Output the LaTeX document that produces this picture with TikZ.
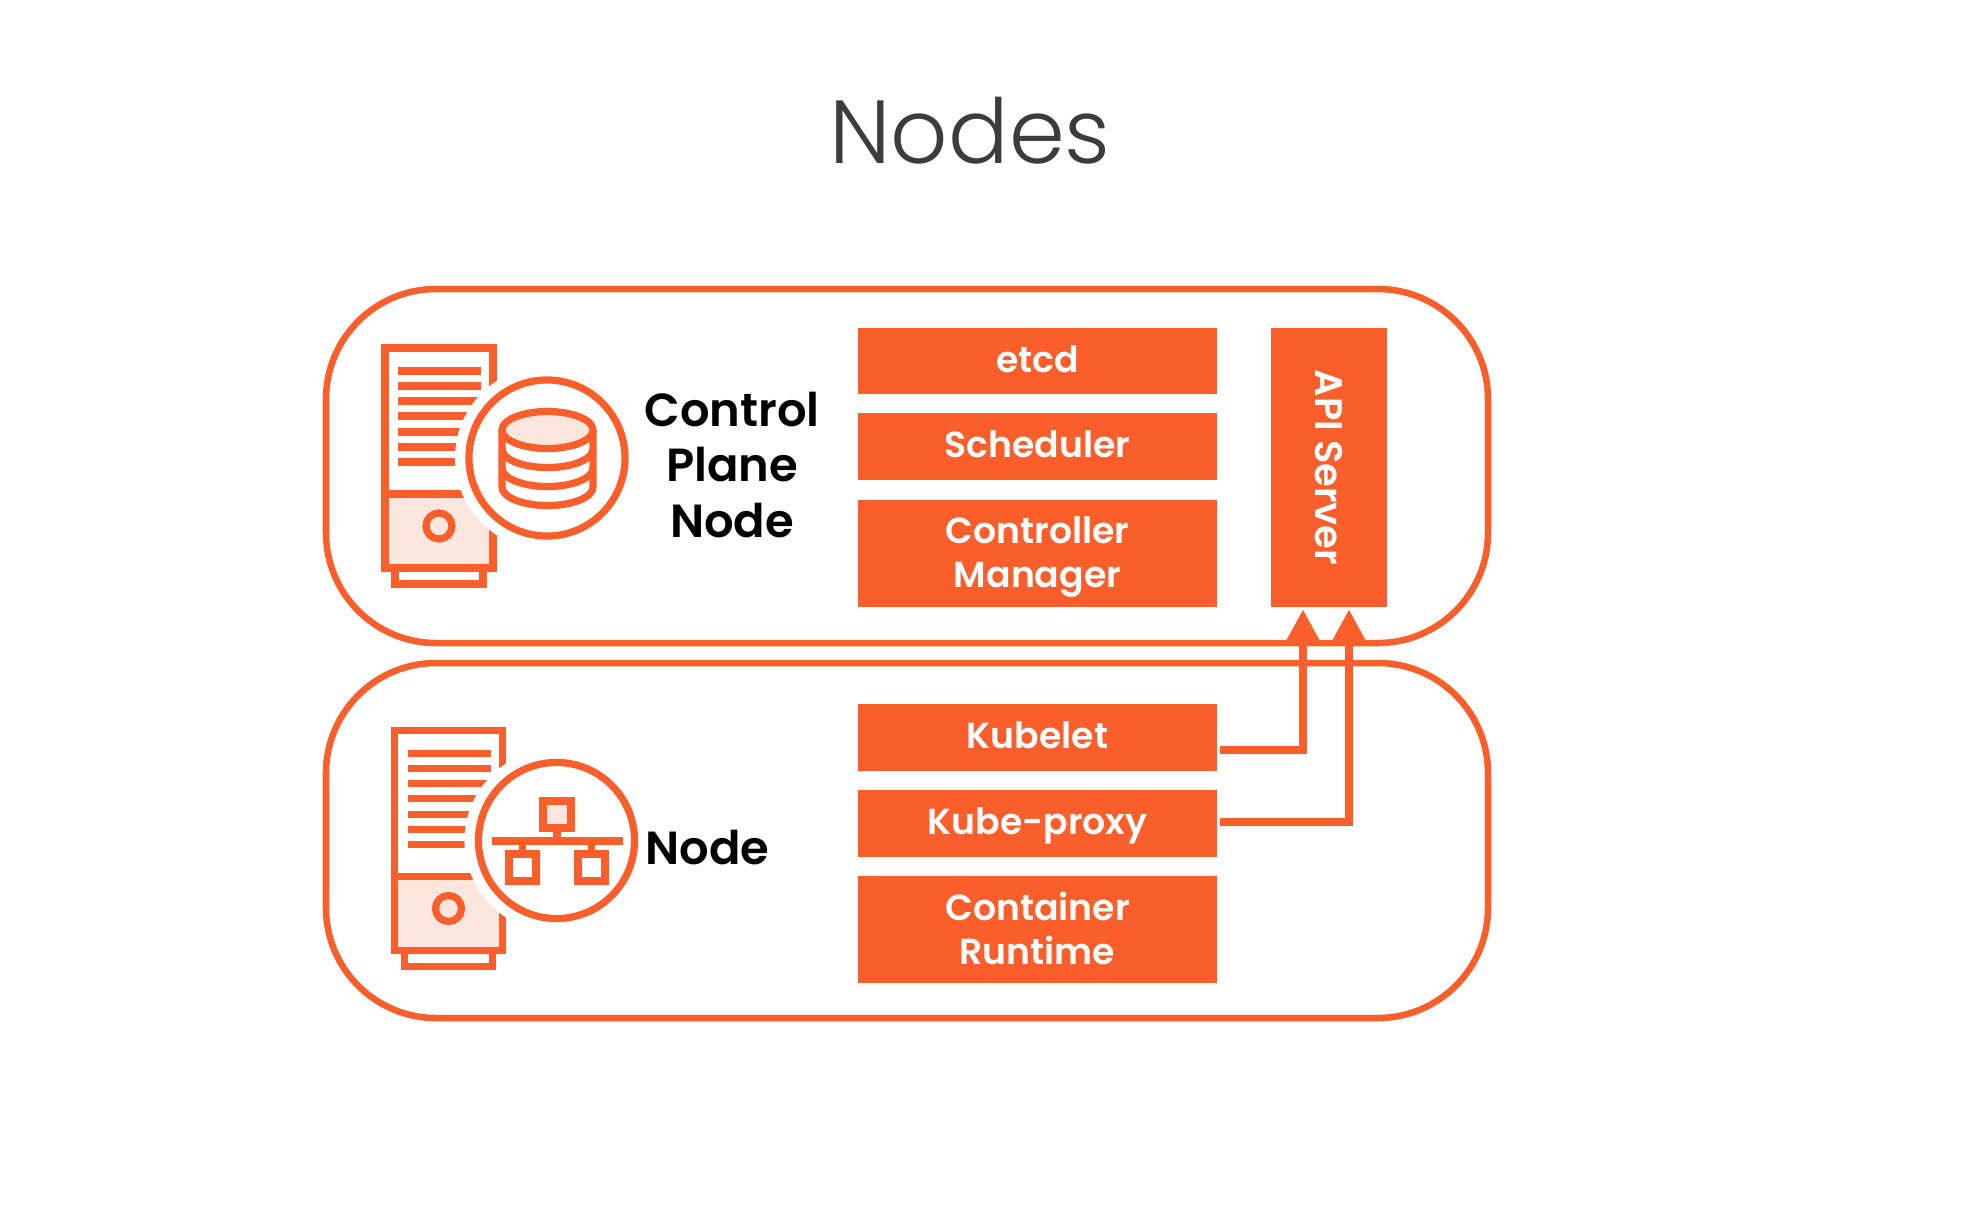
\documentclass[tikz,border=0pt]{standalone}
\usepackage{fontspec}
\usepackage{tikz}
\usetikzlibrary{arrows.meta}
\setmainfont{Poppins}
\newfontfamily\titlefont{Poppins Light}
\newfontfamily\namefont{Poppins SemiBold}
\definecolor{rust}{HTML}{FA5F2B}
\definecolor{blush}{HTML}{FCE6DE}
\definecolor{ink}{HTML}{3C3C3C}
\tikzset{
  frame/.style={draw=rust, line width=0.065cm, rounded corners=1.1cm},
  icon/.style={draw=rust, line width=0.072cm},
  plate/.style={fill=rust, text=white, inner sep=0pt, minimum width=3.59cm, align=center,
    font=\namefont\fontsize{10.3}{12.5}\selectfont},
  oneline/.style={text height=0.24cm, text depth=0.02cm},
  link/.style={draw=rust, line width=0.08cm, -{Triangle[length=0.33cm,width=0.33cm]}},
  hostname/.style={inner sep=0pt, align=center, text=black,
    font=\namefont\fontsize{13.2}{15.8}\selectfont}
}
% server tower with a white disc where the round badge sits
\newcommand{\Tower}[2]{
  \begin{scope}[shift={(#1,#2)}]
    \fill[blush] (385,494) rectangle (493,568);
    \draw[icon] (385,348) rectangle (493,568);
    \draw[icon] (395,568) rectangle (483,584);
    \draw[icon] (385,494) -- (493,494);
    \foreach \y/\e in {371/481, 386/481, 401/481, 416/481, 432/481, 447/457, 462/457}
      \draw[icon] (398,\y) -- (\e,\y);
    \draw[icon] (439,526) circle (0.13cm);
    \fill[white] (547,458) circle (0.92cm);
    \draw[icon] (547,458) circle (0.78cm);
  \end{scope}
}
\begin{document}
\begin{tikzpicture}[x=0.01cm, y=-0.01cm]
    \useasboundingbox (0,0) rectangle (1962,1211);
    \node[anchor=base, inner sep=0pt, text=ink, font=\titlefont\fontsize{25.5}{30}\selectfont] (title) at (970,163) {Nodes};

    \draw[frame] (326,289) rectangle (1488,643);
    \draw[frame] (326,663) rectangle (1488,1018);

    % control plane side
    \Tower{0}{0}
    \draw[icon] (502,430) -- (502,487) arc[start angle=180, end angle=360, x radius=0.455cm, y radius=0.185cm] -- (593,430);
    \draw[icon, fill=blush] (547.5,430) ellipse [x radius=0.455cm, y radius=0.185cm];
    \foreach \y in {449,468}
      \draw[icon] (502,\y) arc[start angle=180, end angle=360, x radius=0.455cm, y radius=0.185cm];
    \node[hostname] (cpname) at (732,465) {Control\\Plane\\Node};

    \node[plate, oneline, minimum height=0.66cm] (etcd) at (1037.5,361) {etcd};
    \node[plate, oneline, minimum height=0.67cm] (scheduler) at (1037.5,446.5) {Scheduler};
    \node[plate, text depth=0.035cm, minimum height=1.06cm] (controller) at (1037.5,553.5) {Controller\\Manager};
    \node[fill=rust, text=white, inner sep=0pt, minimum width=2.78cm, minimum height=1.16cm, rotate=-90,
      font=\namefont\fontsize{10.9}{12.5}\selectfont] (api) at (1329,467.5) {API Server};

    % worker side
    \Tower{9.5}{382.5}
    \draw[icon] (557,828) -- (557,841);
    \draw[icon] (522.5,841) -- (522.5,854);
    \draw[icon] (591.5,841) -- (591.5,854);
    \draw[icon] (492,841) -- (623,841);
    \draw[icon, fill=blush] (543,801) rectangle (571,828);
    \draw[icon] (509,854) rectangle (536,881);
    \draw[icon] (578,854) rectangle (605,881);
    \node[hostname, anchor=base west] (workername) at (645,864) {Node};

    \node[plate, oneline, minimum height=0.67cm] (kubelet) at (1037.5,737.5) {Kubelet};
    \node[plate, oneline, minimum height=0.67cm] (proxy) at (1037.5,823.5) {Kube-proxy};
    \node[plate, text depth=0.03cm, minimum height=1.06cm] (runtime) at (1037.5,929.5) {Container\\Runtime};

    \draw[link] ([xshift=0.02cm]kubelet.-4.3) -| ([xshift=-0.26cm,yshift=-0.02cm]api.east);
    \draw[link] ([xshift=0.02cm,yshift=0.015cm]proxy.east) -| ([xshift=0.2cm,yshift=-0.02cm]api.east);
\end{tikzpicture}
\end{document}
